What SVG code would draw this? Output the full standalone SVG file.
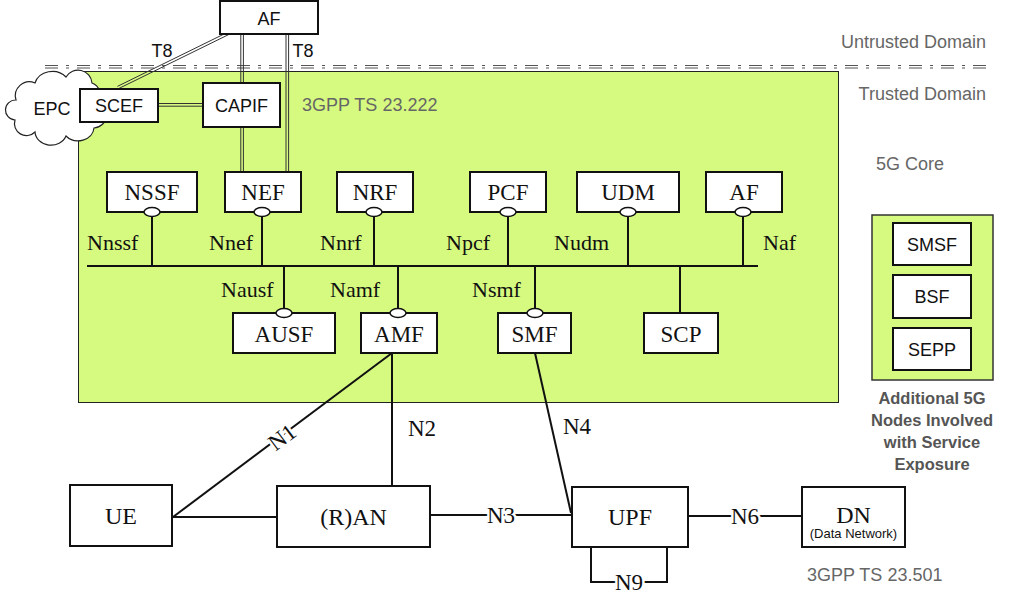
<svg xmlns="http://www.w3.org/2000/svg" width="1024" height="609" viewBox="0 0 1024 609">
<style>
.box{fill:#fff;stroke:#111;stroke-width:2}
.sans{font-family:"Liberation Sans",Arial,sans-serif;fill:#111}
.serif{font-family:"Liberation Serif","Times New Roman",serif;fill:#111}
.grey{font-family:"Liberation Sans",Arial,sans-serif;fill:#666}
.ln{stroke:#111;stroke-width:2;fill:none}
.dbl{stroke:#333;stroke-width:1;fill:none}
.port{fill:#fff;stroke:#111;stroke-width:1.5}
.lbl{paint-order:stroke;stroke:#fff;stroke-width:5}
.nm{font-size:23px}
.itf{font-size:22px}
</style>
<rect width="1024" height="609" fill="#fff"/>
<g id="domains">
<line x1="45" y1="65.5" x2="990" y2="65.5" stroke="#555" stroke-width="1.2" stroke-dasharray="13 8 3 8"/>
<line x1="45" y1="68" x2="990" y2="68" stroke="#555" stroke-width="1.2" stroke-dasharray="13 8 3 8"/>
<text class="grey" x="986" y="48" font-size="18" text-anchor="end">Untrusted Domain</text>
<text class="grey" x="986" y="100" font-size="18" text-anchor="end">Trusted Domain</text>
<text class="grey" x="876" y="170" font-size="18">5G Core</text>
</g>
<g id="core">
<rect x="78.5" y="71.5" width="760" height="331" fill="#d6fa80" stroke="#222" stroke-width="1"/>
<text class="grey" x="302" y="111" font-size="18">3GPP TS 23.222</text>
</g>
<g id="epc">
<path d="M16 100 a14 14 0 0 1 19 -17 a18 16 0 0 1 31 -6 a14 14 0 0 1 26 6 a12 12 0 0 1 6 18 a14 14 0 0 1 -4 27 a16 14 0 0 1 -28 8 a16 14 0 0 1 -31 -4 a12 12 0 0 1 -20 -12 a10 10 0 0 1 1 -20 Z" fill="#fff" stroke="#222" stroke-width="1.2"/>
<text class="sans" x="52" y="115" font-size="18" text-anchor="middle">EPC</text>
</g>
<g id="connectors">
<line class="dbl" x1="228.6" y1="34.6" x2="118.6" y2="88.6"/>
<line class="dbl" x1="227.4" y1="32.4" x2="117.4" y2="86.4"/>
<line class="dbl" x1="240.8" y1="34" x2="240.8" y2="83"/>
<line class="dbl" x1="243.4" y1="34" x2="243.4" y2="83"/>
<line class="dbl" x1="240.8" y1="127" x2="240.8" y2="172"/>
<line class="dbl" x1="243.4" y1="127" x2="243.4" y2="172"/>
<line class="dbl" x1="286" y1="34" x2="286" y2="172"/>
<line class="dbl" x1="288.6" y1="34" x2="288.6" y2="172"/>
<line class="dbl" x1="158" y1="103.5" x2="203" y2="103.5"/>
<line class="dbl" x1="158" y1="106.2" x2="203" y2="106.2"/>
<line class="ln" x1="87" y1="266" x2="758" y2="266" stroke-width="2.5"/>
<line class="ln" x1="152" y1="215" x2="152" y2="266"/>
<line class="ln" x1="262" y1="215" x2="262" y2="266"/>
<line class="ln" x1="374" y1="215" x2="374" y2="266"/>
<line class="ln" x1="508" y1="215" x2="508" y2="266"/>
<line class="ln" x1="628" y1="215" x2="628" y2="266"/>
<line class="ln" x1="743" y1="215" x2="743" y2="266"/>
<line class="ln" x1="284" y1="266" x2="284" y2="310"/>
<line class="ln" x1="398" y1="266" x2="398" y2="310"/>
<line class="ln" x1="535" y1="266" x2="535" y2="310"/>
<line class="ln" x1="680" y1="266" x2="680" y2="313"/>
<line class="ln" x1="392" y1="353" x2="173" y2="517"/>
<line class="ln" x1="392" y1="353" x2="392" y2="486"/>
<line class="ln" x1="172" y1="517" x2="277" y2="517"/>
<line class="ln" x1="535" y1="353" x2="571" y2="513"/>
<line class="ln" x1="430" y1="515" x2="572" y2="515"/>
<line class="ln" x1="688" y1="516" x2="802" y2="516"/>
<path class="ln" d="M591 547 V582 H667 V547"/>
<text class="sans" x="162" y="57" font-size="18" text-anchor="middle">T8</text>
<text class="sans" x="303" y="57" font-size="18" text-anchor="middle">T8</text>
<text class="serif itf" x="87" y="250">Nnssf</text>
<text class="serif itf" x="209" y="250">Nnef</text>
<text class="serif itf" x="320" y="250">Nnrf</text>
<text class="serif itf" x="446" y="250">Npcf</text>
<text class="serif itf" x="554" y="250">Nudm</text>
<text class="serif itf" x="763" y="250">Naf</text>
<text class="serif itf" x="221" y="297">Nausf</text>
<text class="serif itf" x="330" y="297">Namf</text>
<text class="serif itf" x="472" y="297">Nsmf</text>
<text class="serif lbl" x="0" y="0" font-size="23" text-anchor="middle" transform="translate(282 437) rotate(-36.8) translate(0 8)">N1</text>
<text class="serif" x="408" y="436" font-size="23">N2</text>
<text class="serif" x="563" y="434" font-size="23">N4</text>
<text class="serif lbl" x="501" y="523" font-size="23" text-anchor="middle">N3</text>
<text class="serif lbl" x="745" y="524" font-size="23" text-anchor="middle">N6</text>
<text class="serif lbl" x="629" y="590" font-size="23" text-anchor="middle">N9</text>
</g>
<g id="AF-ext"><rect class="box" x="220" y="1" width="98" height="33"/><text class="sans" x="269" y="25" font-size="18" text-anchor="middle">AF</text></g>
<g id="SCEF"><rect class="box" x="80" y="89" width="78" height="33"/><text class="sans" x="119" y="112" font-size="18" text-anchor="middle">SCEF</text></g>
<g id="CAPIF"><rect class="box" x="203" y="83" width="77" height="44"/><text class="sans" x="241.5" y="112" font-size="18" text-anchor="middle">CAPIF</text></g>
<g id="NSSF"><rect class="box" x="107" y="172" width="90" height="40"/><text class="serif nm" x="152" y="200" text-anchor="middle">NSSF</text><ellipse class="port" cx="152" cy="212" rx="8" ry="4.5"/></g>
<g id="NEF"><rect class="box" x="225" y="172" width="76" height="40"/><text class="serif nm" x="263" y="200" text-anchor="middle">NEF</text><ellipse class="port" cx="262" cy="212" rx="8" ry="4.5"/></g>
<g id="NRF"><rect class="box" x="337" y="172" width="76" height="40"/><text class="serif nm" x="375" y="200" text-anchor="middle">NRF</text><ellipse class="port" cx="374" cy="212" rx="8" ry="4.5"/></g>
<g id="PCF"><rect class="box" x="470" y="172" width="76" height="40"/><text class="serif nm" x="508" y="200" text-anchor="middle">PCF</text><ellipse class="port" cx="508" cy="212" rx="8" ry="4.5"/></g>
<g id="UDM"><rect class="box" x="577" y="172" width="102" height="40"/><text class="serif nm" x="628" y="200" text-anchor="middle">UDM</text><ellipse class="port" cx="628" cy="212" rx="8" ry="4.5"/></g>
<g id="AF"><rect class="box" x="706" y="172" width="76" height="40"/><text class="serif nm" x="744" y="200" text-anchor="middle">AF</text><ellipse class="port" cx="743" cy="212" rx="8" ry="4.5"/></g>
<g id="AUSF"><rect class="box" x="233" y="313" width="102" height="40"/><text class="serif nm" x="284" y="342" text-anchor="middle">AUSF</text><ellipse class="port" cx="284" cy="313" rx="8" ry="4.5"/></g>
<g id="AMF"><rect class="box" x="361" y="313" width="76" height="40"/><text class="serif nm" x="399" y="342" text-anchor="middle">AMF</text><ellipse class="port" cx="398" cy="313" rx="8" ry="4.5"/></g>
<g id="SMF"><rect class="box" x="498" y="313" width="73" height="40"/><text class="serif nm" x="534.5" y="342" text-anchor="middle">SMF</text><ellipse class="port" cx="535" cy="313" rx="8" ry="4.5"/></g>
<g id="SCP"><rect class="box" x="644" y="313" width="74" height="40"/><text class="serif nm" x="681" y="342" text-anchor="middle">SCP</text></g>
<g id="UE"><rect class="box" x="70" y="485" width="102" height="61"/><text class="serif" x="121" y="524" font-size="24" text-anchor="middle">UE</text></g>
<g id="RAN"><rect class="box" x="277" y="486" width="153" height="61"/><text class="serif" x="353.5" y="525" font-size="24" text-anchor="middle">(R)AN</text></g>
<g id="UPF"><rect class="box" x="572" y="487" width="116" height="60"/><text class="serif" x="630" y="525" font-size="24" text-anchor="middle">UPF</text></g>
<g id="DN"><rect class="box" x="802" y="487" width="103" height="60"/><text class="serif" x="853.5" y="523" font-size="24" text-anchor="middle">DN</text><text class="sans" x="853.5" y="538" font-size="13" fill="#333" text-anchor="middle">(Data Network)</text></g>
<text class="grey" x="807" y="581" font-size="18">3GPP TS 23.501</text>
<g id="additional">
<rect x="872" y="215" width="121" height="165" fill="#d6fa80" stroke="#333" stroke-width="1.5"/>
<g id="SMSF"><rect class="box" x="893" y="223" width="78" height="42" stroke-width="1.5"/><text class="sans" x="932" y="251" font-size="18" text-anchor="middle">SMSF</text></g>
<g id="BSF"><rect class="box" x="893" y="275" width="78" height="43" stroke-width="1.5"/><text class="sans" x="932" y="303" font-size="18" text-anchor="middle">BSF</text></g>
<g id="SEPP"><rect class="box" x="893" y="328" width="78" height="42" stroke-width="1.5"/><text class="sans" x="932" y="356" font-size="18" text-anchor="middle">SEPP</text></g>
<text x="932" y="404" font-size="16.5" font-weight="bold" fill="#555" font-family="Liberation Sans,Arial,sans-serif" text-anchor="middle"><tspan x="932" y="404">Additional 5G</tspan><tspan x="932" y="426">Nodes Involved</tspan><tspan x="932" y="448">with Service</tspan><tspan x="932" y="470">Exposure</tspan></text>
</g>
</svg>
